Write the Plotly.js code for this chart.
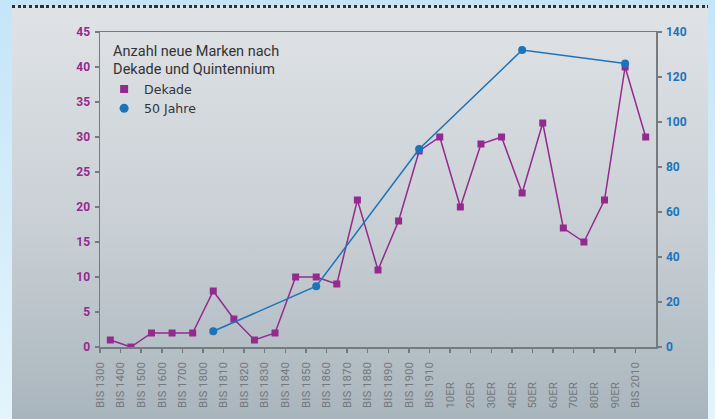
<!DOCTYPE html>
<html>
<head>
<meta charset="utf-8">
<script src="https://cdn.plot.ly/plotly-3.0.1.min.js"></script>
<style>
html,body{margin:0;padding:0;}
body{width:715px;height:419px;overflow:hidden;position:relative;
  background:linear-gradient(to bottom,#c4e5f8 0%,#e4f4fc 100%);}
#panel{position:absolute;left:12px;top:6px;width:696px;height:413px;
  background:linear-gradient(to bottom,#e0e3e6 0%,#c8cfd4 55%,#a9b5bd 100%);}
#dots{position:absolute;left:12px;top:5px;width:696px;height:3px;
  background-image:repeating-linear-gradient(to right,#2e2e2e 0px,#2e2e2e 3px,transparent 3px,transparent 5.7px);}
#chart{position:absolute;left:0;top:0;width:715px;height:419px;}
</style>
</head>
<body>
<div id="panel"></div>
<div id="dots"></div>
<div id="chart"></div>
<script>
// ---- data ----
const categories = ["BIS 1300","BIS 1400","BIS 1500","BIS 1600","BIS 1700","BIS 1800","BIS 1810","BIS 1820","BIS 1830","BIS 1840","BIS 1850","BIS 1860","BIS 1870","BIS 1880","BIS 1890","BIS 1900","BIS 1910","10ER","20ER","30ER","40ER","50ER","60ER","70ER","80ER","90ER","BIS 2010"];
const dekadeValues = [1,0,2,2,2,8,4,1,2,10,10,9,21,11,18,28,30,20,29,30,22,32,17,15,21,40,30];
const jahre50Categories = ["BIS 1800","BIS 1850","BIS 1900","40ER","90ER"];
const jahre50Values = [7,27,88,132,126];
const leftTicks = [0,5,10,15,20,25,30,35,40,45];
const rightTicks = [0,20,40,60,80,100,120,140];
const legendTitle = "Anzahl neue Marken nach<br>Dekade und Quintennium";
const seriesNames = ["Dekade","50 Jahre"];

// ---- styling ----
const PURPLE = "#942a8e";
const BLUE = "#1b74b9";
const AXIS = "#767b7f";
const FONT = "Roboto, 'DejaVu Sans', sans-serif";

const idx = categories.map((c,i)=>i);
const tickPos = idx.map(i=>i-0.5);
// pad short labels so that the visible text sits at the bottom like the reference
const tickText = categories.map(c => c.length < 8 ? c + "\u00a0".repeat(7) : c);
const j50x = jahre50Categories.map(c => categories.indexOf(c));

const traces = [
  {x: idx, y: dekadeValues, type:"scatter", mode:"lines+markers", name:seriesNames[0],
   line:{color:PURPLE,width:1.5}, marker:{symbol:"square",size:7,color:PURPLE},
   showlegend:false, xaxis:"x", yaxis:"y", hoverinfo:"skip"},
  {x: j50x, y: jahre50Values, type:"scatter", mode:"lines+markers", name:seriesNames[1],
   line:{color:BLUE,width:1.5}, marker:{symbol:"circle",size:8,color:BLUE},
   showlegend:false, xaxis:"x", yaxis:"y2", hoverinfo:"skip"},
  {x:[null], y:[null], type:"scatter", mode:"markers", name:seriesNames[0],
   marker:{symbol:"square",size:8,color:PURPLE}, xaxis:"x", yaxis:"y"},
  {x:[null], y:[null], type:"scatter", mode:"markers", name:seriesNames[1],
   marker:{symbol:"circle",size:9,color:BLUE}, xaxis:"x", yaxis:"y"}
];

const baseAxis = {showgrid:false, zeroline:false, showline:true, linecolor:AXIS, linewidth:1.5,
  tickcolor:AXIS, tickwidth:1.5, ticklen:4, fixedrange:true};

const layout = {
  width:715, height:419,
  margin:{l:100, r:59, t:32, b:72},
  paper_bgcolor:"rgba(0,0,0,0)", plot_bgcolor:"rgba(0,0,0,0)",
  font:{family:FONT, size:12, color:"#333"},
  showlegend:true,
  legend:{x:0.02, y:0.985, xanchor:"left", yanchor:"top", bgcolor:"rgba(0,0,0,0)",
    font:{family:"'DejaVu Sans', sans-serif", size:12.5, color:"#333"},
    title:{text:legendTitle, side:"top", font:{family:FONT,size:14.5,color:"#333"}},
    itemwidth:30, tracegroupgap:0, indentation:-7},
  xaxis:Object.assign({}, baseAxis, {range:[-0.5,26.5], tickmode:"array", tickvals:tickPos, ticktext:tickText,
    ticks:"outside", tickangle:-90, mirror:true, ticklabelstandoff:5,
    tickfont:{family:FONT,size:11.5,color:"#74787c"}}),
  xaxis2:Object.assign({}, baseAxis, {range:[-0.5,26.5], tickmode:"array", tickvals:tickPos,
    ticks:"inside", showticklabels:false, overlaying:"x", anchor:"y"}),
  yaxis:Object.assign({}, baseAxis, {range:[0,45], tickmode:"array", tickvals:leftTicks,
    ticks:"outside", ticklabelstandoff:2,
    tickfont:{family:FONT,size:12,color:PURPLE,weight:"bold"}}),
  yaxis2:Object.assign({}, baseAxis, {range:[0,140], tickmode:"array", tickvals:rightTicks,
    ticks:"outside", side:"right", overlaying:"y", anchor:"x", ticklabelstandoff:2,
    tickfont:{family:FONT,size:12,color:BLUE,weight:"bold"}}),
  yaxis3:Object.assign({}, baseAxis, {range:[0,45], tickmode:"array", tickvals:leftTicks,
    ticks:"inside", showticklabels:false, overlaying:"y", anchor:"x"}),
  yaxis4:Object.assign({}, baseAxis, {range:[0,140], tickmode:"array", tickvals:rightTicks,
    ticks:"inside", showticklabels:false, side:"right", overlaying:"y", anchor:"x"})
};

Plotly.newPlot("chart", traces, layout, {staticPlot:true, displayModeBar:false});
</script>
</body>
</html>
